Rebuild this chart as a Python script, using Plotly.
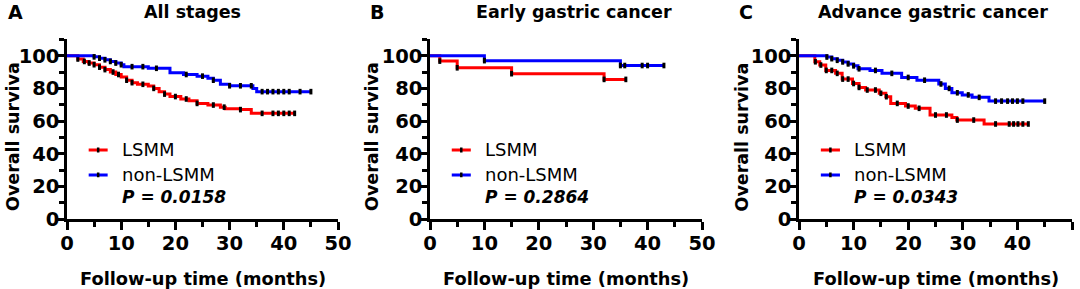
import plotly.graph_objects as go

# ---------------- data ----------------
panel_letters = ["A", "B", "C"]
panel_titles = ["All stages", "Early gastric cancer", "Advance gastric cancer"]
p_values = ["P = 0.0158", "P = 0.2864", "P = 0.0343"]
group_names = ["LSMM", "non-LSMM"]
x_ticks = [0, 10, 20, 30, 40, 50]
y_ticks = [0, 20, 40, 60, 80, 100]

# Panel A (All stages)
a_lsmm_t = [0, 2, 3, 4, 5, 6, 7, 8, 9, 10, 11, 12, 13, 15, 16, 17, 18, 19, 21, 22.5, 24, 26, 28.3, 29.2, 32, 34, 42]
a_lsmm_s = [100, 98, 96.5, 95.5, 94.5, 93, 91.5, 90, 88.5, 87, 85, 83.5, 82.5, 81.5, 80, 78, 76.5, 75, 73.5, 72.5, 70.8, 69.8, 68.5, 67.5, 67, 64.7, 64.7]
a_lsmm_c = [2, 3.2, 4.1, 5, 6, 7, 8.5, 9.5, 11, 12, 14, 16, 18, 20, 22, 24, 27, 29, 32, 36, 38, 39, 40, 41, 42]
a_non_t = [0, 5, 6, 7, 8, 9, 10, 10.5, 15, 19, 21.5, 24, 26, 27, 28.3, 30, 34.3, 35, 45]
a_non_s = [100, 99.3, 98.5, 97.5, 96.5, 95.5, 94.5, 93.3, 92.3, 89.5, 88.5, 87.5, 86.2, 85, 82.5, 81.6, 80, 78, 78]
a_non_c = [5, 6, 7, 8, 9, 10, 12, 14, 16.5, 22, 25, 27, 30, 32, 34, 36, 37, 38, 39, 40, 41, 43, 45]

# Panel B (Early gastric cancer)
b_lsmm_t = [0, 1.8, 5, 15, 32, 36]
b_lsmm_s = [100, 96.7, 92.6, 89, 85.5, 85.5]
b_lsmm_c = [1.8, 5, 15, 32, 36]
b_non_t = [0, 10, 35, 43]
b_non_s = [100, 97, 94, 94]
b_non_c = [10, 35, 35.8, 39, 40, 43]

# Panel C (Advance gastric cancer)
c_lsmm_t = [0, 2.9, 3.8, 4.9, 6.7, 7.9, 9.8, 11, 12.2, 14.7, 15.9, 16.8, 19.5, 21.3, 24, 28, 28.9, 33.9, 42]
c_lsmm_s = [100, 96.3, 94.3, 91, 89.2, 85.7, 83, 80.6, 79, 77, 74.9, 70.8, 69.2, 67.8, 63.7, 62.2, 60.6, 58.2, 58.2]
c_lsmm_c = [3, 4, 5, 6, 7, 8, 9, 10, 11, 12.5, 14, 15, 16, 18, 20, 22, 25, 27, 29, 32, 36, 38.5, 39.3, 40.1, 41, 42]
c_non_t = [0, 5.1, 6, 7, 8, 9, 10, 10.8, 13, 15.2, 18.8, 21.6, 25.6, 26.8, 28, 29.9, 31.7, 34.8, 45]
c_non_s = [100, 99.2, 98.2, 97.2, 96.2, 95, 93.8, 92, 91, 89.2, 86.7, 85, 82.7, 80, 77.3, 76, 74.5, 72.2, 72.2]
c_non_c = [5.1, 6, 7, 8, 9, 10, 11, 14, 17, 20, 23, 26, 27.5, 29, 31, 33, 36, 37.1, 38.2, 39.1, 40, 41, 45]

panels = [
    [(a_lsmm_t, a_lsmm_s, a_lsmm_c), (a_non_t, a_non_s, a_non_c)],
    [(b_lsmm_t, b_lsmm_s, b_lsmm_c), (b_non_t, b_non_s, b_non_c)],
    [(c_lsmm_t, c_lsmm_s, c_lsmm_c), (c_non_t, c_non_s, c_non_c)],
]
colors = ["#FF0000", "#0000FF"]

# ---------------- layout geometry ----------------
W, H = 1080, 289
x_domains = [[67 / W, 338 / W], [430 / W, 702 / W], [799 / W, 1072 / W]]
y_domain = [1 - 219 / H, 1 - 39.4 / H]
ytitle_px = [13, 372, 741.5]
letter_px = [15, 377, 746]
title_px = [192.5, 573.5, 933]

BOLD = "DejaVu Sans"


def surv_at(ts, ss, t):
    val = ss[0]
    for ti, si in zip(ts, ss):
        if ti <= t:
            val = si
    return val


fig = go.Figure()
annotations = []
shapes = []

for i, panel in enumerate(panels):
    sfx = "" if i == 0 else str(i + 1)
    xref, yref = "x" + sfx, "y" + sfx
    for g, (ts, ss, cs) in enumerate(panel):
        fig.add_trace(go.Scatter(
            x=ts, y=ss, mode="lines", line=dict(color=colors[g], width=3, shape="hv"),
            xaxis=xref, yaxis=yref, showlegend=False, cliponaxis=False, hoverinfo="skip"))
        fig.add_trace(go.Scatter(
            x=cs, y=[surv_at(ts, ss, c) for c in cs], mode="markers",
            marker=dict(symbol="line-ns", size=4, line=dict(color="black", width=3)),
            xaxis=xref, yaxis=yref, showlegend=False, cliponaxis=False, hoverinfo="skip"))

    axis_common = dict(
        showline=True, linecolor="black", linewidth=2.5, ticks="outside", tickcolor="black",
        tickwidth=2.5, showgrid=False, zeroline=False, automargin=False,
        tickfont=dict(family=BOLD, size=19.5, color="black", weight="bold"),
    )
    fig.update_layout(**{
        "xaxis" + sfx: dict(domain=x_domains[i], range=[0, 50], tickvals=x_ticks, ticklen=8,
                            anchor=yref, ticklabelstandoff=-3,
                            minor=dict(dtick=5, tick0=5, ticklen=5, tickwidth=2.5,
                                       tickcolor="black", ticks="outside"),
                            **axis_common),
        "yaxis" + sfx: dict(domain=y_domain, range=[0, 110], tickvals=y_ticks, ticklen=6,
                            anchor=xref, ticklabelstandoff=-5,
                            minor=dict(dtick=10, tick0=0, ticklen=5, tickwidth=2.5,
                                       tickcolor="black", ticks="outside"),
                            **axis_common),
    })

    # legend samples
    for g, (ly, name) in enumerate(zip([42.3, 27], group_names)):
        shapes.append(dict(type="line", xref=xref, yref=yref, x0=4, x1=7.5, y0=ly, y1=ly,
                           line=dict(color=colors[g], width=3)))
        shapes.append(dict(type="line", xref=xref, yref=yref, x0=5.75, x1=5.75, y0=ly - 1.5, y1=ly + 1.5,
                           line=dict(color="black", width=2.5)))
        annotations.append(dict(xref=xref, yref=yref, x=9.7, y=ly, text=name, showarrow=False,
                                xanchor="left", yanchor="middle",
                                font=dict(family=BOLD, size=18, color="black")))
    annotations.append(dict(xref=xref, yref=yref, x=9.7, y=13.5, text="<b><i>" + p_values[i] + "</i></b>",
                            showarrow=False, xanchor="left", yanchor="middle",
                            font=dict(family=BOLD, size=17, color="black")))
    # panel letter and title
    annotations.append(dict(xref="paper", yref="paper", x=letter_px[i] / W, y=1 - 12 / H,
                            text="<b>" + panel_letters[i] + "</b>", showarrow=False,
                            xanchor="center", yanchor="middle",
                            font=dict(family=BOLD, size=19, color="black")))
    annotations.append(dict(xref="paper", yref="paper", x=title_px[i] / W, y=1 - 12 / H,
                            text="<b>" + panel_titles[i] + "</b>", showarrow=False,
                            xanchor="center", yanchor="middle",
                            font=dict(family=BOLD, size=17.5, color="black")))
    # axis titles
    annotations.append(dict(xref="paper", yref="paper",
                            x=(x_domains[i][0] + x_domains[i][1]) / 2, y=1 - 278 / H,
                            text="<b>Follow-up time (months)</b>", showarrow=False,
                            xanchor="center", yanchor="middle",
                            font=dict(family=BOLD, size=17.8, color="black")))
    annotations.append(dict(xref="paper", yref="paper", x=ytitle_px[i] / W, y=1 - 137 / H,
                            text="<b>Overall surviva</b>", showarrow=False, textangle=-90,
                            xanchor="center", yanchor="middle",
                            font=dict(family=BOLD, size=17.5, color="black")))

fig.update_layout(
    width=W, height=H, margin=dict(l=0, r=0, t=0, b=0, autoexpand=False),
    paper_bgcolor="white", plot_bgcolor="white",
    annotations=annotations, shapes=shapes, showlegend=False,
)

fig.write_html("out.html", config={"displayModeBar": False},
               post_script="document.body.style.margin='0';document.body.style.padding='0';")
